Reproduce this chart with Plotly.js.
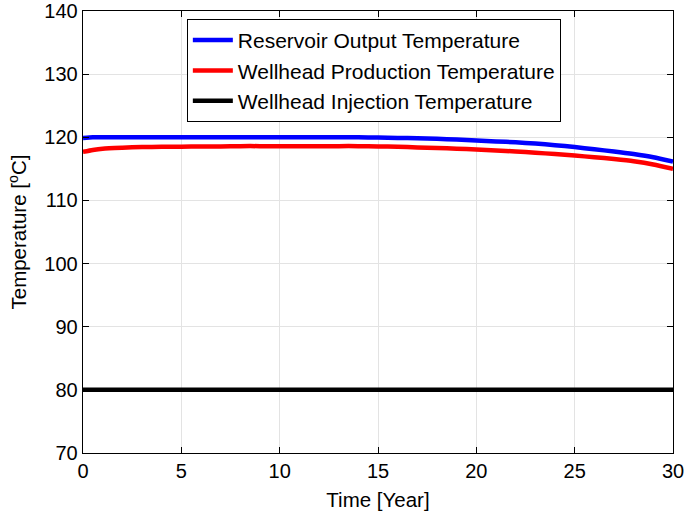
<!DOCTYPE html>
<html>
<head>
<meta charset="utf-8">
<script src="https://cdn.plot.ly/plotly-3.0.1.min.js"></script>
<style>html,body{margin:0;padding:0;background:#fff;}#chart{width:685px;height:519px;}</style>
</head>
<body>
<div id="chart"></div>
<script>
var years = [0, 0.5, 1, 2, 3, 4, 5, 6, 7, 8, 9, 10, 11, 12, 13, 14, 15, 16, 17, 18, 19, 20, 21, 22, 23, 24, 25, 26, 27, 28, 29, 30];
var reservoirOutput = [119.9, 120.0, 120.0, 120.0, 120.0, 120.0, 120.0, 120.0, 120.0, 120.0, 120.0, 120.0, 120.0, 120.0, 120.0, 120.0, 119.95, 119.9, 119.85, 119.75, 119.65, 119.5, 119.35, 119.2, 119.0, 118.75, 118.45, 118.1, 117.75, 117.35, 116.85, 116.15];
var wellheadProduction = [117.7, 118.0, 118.2, 118.35, 118.45, 118.5, 118.5, 118.55, 118.55, 118.6, 118.6, 118.6, 118.6, 118.6, 118.6, 118.6, 118.55, 118.5, 118.4, 118.3, 118.2, 118.05, 117.9, 117.75, 117.55, 117.35, 117.1, 116.85, 116.55, 116.2, 115.7, 115.0];
var wellheadInjection = [80, 80, 80, 80, 80, 80, 80, 80, 80, 80, 80, 80, 80, 80, 80, 80, 80, 80, 80, 80, 80, 80, 80, 80, 80, 80, 80, 80, 80, 80, 80, 80];
var seriesNames = ["Reservoir Output Temperature", "Wellhead Production Temperature", "Wellhead Injection Temperature"];
var xTicks = [0, 5, 10, 15, 20, 25, 30];
var yTicks = [70, 80, 90, 100, 110, 120, 130, 140];
var xTitle = "Time [Year]";
var yTitle = "Temperature [<sup>o</sup>C]";

var font = "Liberation Sans, Arial, sans-serif";
var colors = ["#0000ff", "#ff0000", "#000000"];
var ys = [reservoirOutput, wellheadProduction, wellheadInjection];
var traces = ys.map(function (y, i) {
  return { x: years, y: y, name: seriesNames[i], type: "scatter", mode: "lines",
           line: { color: colors[i], width: 4.5, shape: "spline", smoothing: 0.6 } };
});

var axisCommon = {
  showline: true, mirror: "ticks", linecolor: "#000", linewidth: 1.3,
  ticks: "inside", ticklen: 6, tickcolor: "#000", tickwidth: 1,
  showgrid: true, gridcolor: "#e3e3e3", gridwidth: 1, zeroline: false,
  ticklabeloverflow: "allow",
  tickfont: { family: font, size: 20, color: "#000" }
};

var layout = {
  width: 685, height: 519,
  margin: { l: 83, r: 12, t: 11, b: 66 },
  paper_bgcolor: "#fff", plot_bgcolor: "#fff",
  showlegend: true,
  legend: {
    x: 0.176, y: 0.982, xanchor: "left", yanchor: "top",
    bgcolor: "#fff", bordercolor: "#000", borderwidth: 1,
    font: { family: font, size: 21, color: "#000" },
    tracegroupgap: 0, itemwidth: 40
  },
  xaxis: Object.assign({}, axisCommon, {
    range: [0, 30], tickmode: "array", tickvals: xTicks, ticktext: xTicks.map(String),
    title: { text: xTitle, font: { family: font, size: 20.5, color: "#000" }, standoff: 11 }
  }),
  yaxis: Object.assign({}, axisCommon, {
    range: [70, 140], tickmode: "array", tickvals: yTicks, ticktext: yTicks.map(String),
    automargin: false
  }),
  annotations: [{
    text: yTitle, xref: "paper", yref: "paper", x: -0.111, y: 0.5,
    xanchor: "center", yanchor: "middle", textangle: -90, showarrow: false,
    font: { family: font, size: 20.5, color: "#000" }
  }]
};

Plotly.newPlot("chart", traces, layout, { displayModeBar: false, staticPlot: true });
</script>
</body>
</html>
